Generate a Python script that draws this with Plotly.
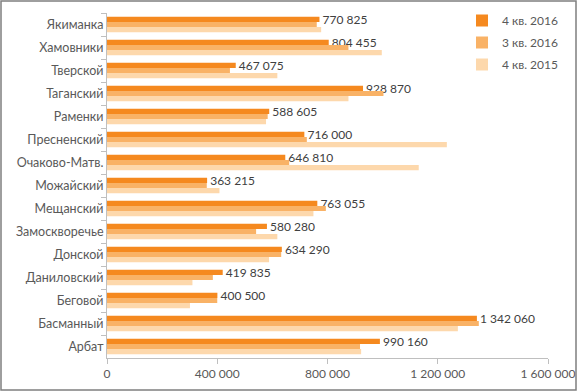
import plotly.graph_objects as go

districts = ["Якиманка", "Хамовники", "Тверской", "Таганский", "Раменки", "Пресненский",
             "Очаково-Матв.", "Можайский", "Мещанский", "Замоскворечье", "Донской",
             "Даниловский", "Беговой", "Басманный", "Арбат"]

q4_2016 = [770825, 804455, 467075, 928870, 588605, 716000, 646810, 363215, 763055,
           580280, 634290, 419835, 400500, 1342060, 990160]
q3_2016 = [761000, 876000, 446000, 1003000, 583000, 725000, 661000, 362000, 794000,
           541000, 632000, 384000, 400000, 1349000, 918000]
q4_2015 = [777000, 997000, 618000, 876000, 577000, 1233000, 1131000, 408000, 749000,
           618000, 588000, 310000, 301000, 1273000, 922000]

x_ticks = [0, 400000, 800000, 1200000, 1600000]

series_names = ["4 кв. 2016", "3 кв. 2016", "4 кв. 2015"]
colors = ["#F5891F", "#F9B266", "#FDD8AC"]

FONT = "Lato"
GRAY = "#595959"

fig = go.Figure()
for i, (name, vals, col) in enumerate(zip(series_names, [q4_2016, q3_2016, q4_2015], colors)):
    kw = {}
    if i == 0:
        kw = dict(texttemplate=" %{x:,d}", textposition="outside", constraintext="none",
                  textfont=dict(family=FONT, size=12, color="#404040"), cliponaxis=False)
    fig.add_trace(go.Bar(y=districts, x=vals, orientation="h", name=name,
                         marker=dict(color=col, line=dict(width=0)),
                         legendgroup=name, hoverinfo="skip", **kw))

L, R, T, B = 107, 34, 13, 34
W, H = 582, 392
pw, ph = W - L - R, H - T - B

def px_x(p):
    return (p - L) / pw

def px_y(p):
    return (H - B - p) / ph

fig.update_layout(
    width=W, height=H,
    margin=dict(l=L, r=R, t=T, b=B, pad=0, autoexpand=False),
    paper_bgcolor="white", plot_bgcolor="white",
    barmode="group", bargap=0.33, bargroupgap=0,
    separators=", ",
    font=dict(family=FONT, size=12, color=GRAY),
    showlegend=True,
    legend=dict(x=px_x(462), y=px_y(6), xanchor="left", yanchor="top",
                font=dict(family=FONT, size=12, color=GRAY),
                bgcolor="rgba(0,0,0,0)", tracegroupgap=3,
                itemwidth=30),
    xaxis=dict(range=[0, 1600000], tickvals=x_ticks, tickformat=",d",
               showgrid=False, zeroline=False, showline=True, linecolor="#BFBFBF",
               linewidth=1, ticks="outside", ticklen=5, tickcolor="#BFBFBF",
               automargin=False,
               tickfont=dict(family=FONT, size=12, color=GRAY)),
    yaxis=dict(type="category", autorange="reversed", showgrid=False, zeroline=False,
               showline=True, linecolor="#BFBFBF", linewidth=1, ticks="outside",
               ticklen=5, tickcolor="#BFBFBF", tickson="boundaries", automargin=False,
               tickfont=dict(family=FONT, size=12.5, color=GRAY)),
    shapes=[dict(type="rect", xref="paper", yref="paper",
                 x0=px_x(1), x1=px_x(576), y0=px_y(390), y1=px_y(1),
                 line=dict(color="#7F7F7F", width=1.5), layer="above")],
)

fig.write_html("out.html", config={"displayModeBar": False, "staticPlot": True},
               post_script="document.body.style.margin='0';document.body.style.overflow='hidden';")
